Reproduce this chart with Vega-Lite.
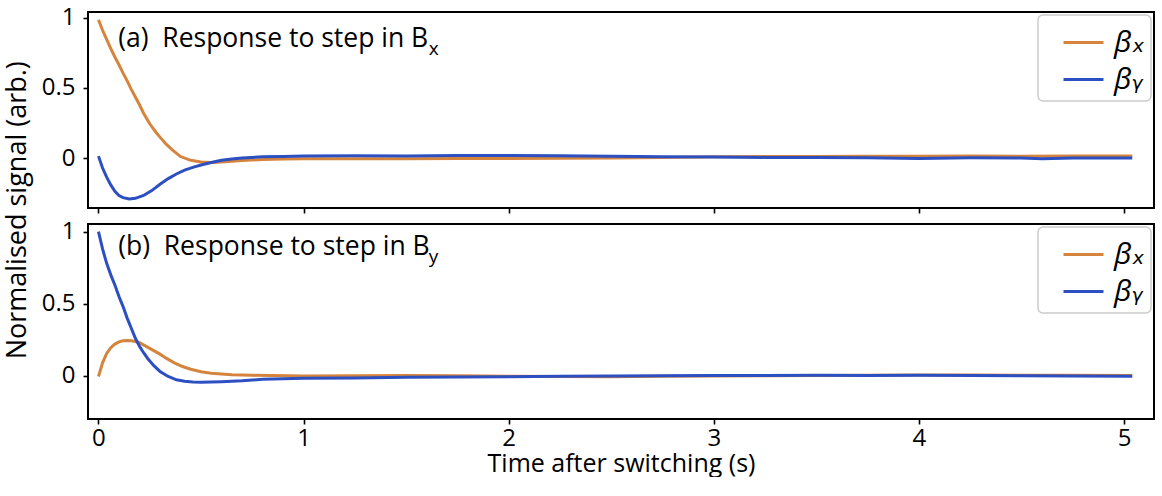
{
  "$schema": "https://vega.github.io/schema/vega-lite/v6.json",
  "padding": {"left": 3, "top": 4, "right": 0, "bottom": 0},
  "bounds": "flush",
  "spacing": 16,
  "config": {
    "font": "Open Sans",
    "view": {"stroke": "#000000", "strokeWidth": 2},
    "axis": {"domain": false, "grid": false, "tickColor": "#000000", "tickSize": 5, "tickWidth": 1.6, "labelColor": "#000000", "labelFontSize": 24, "labelFont": "Open Sans", "titleFont": "Open Sans", "titleFontSize": 25, "titleFontWeight": "normal", "titleColor": "#000000", "labelPadding": 8},
    "legend": {"orient": "top-right", "offset": 3, "padding": 6, "strokeColor": "#cccccc", "strokeWidth": 1.5, "fillColor": "rgba(255,255,255,0.85)", "cornerRadius": 5, "symbolType": "stroke", "symbolSize": 1600, "symbolStrokeWidth": 3, "symbolOffset": 18, "labelFontSize": 30, "labelFont": "Open Sans, DejaVu Sans", "labelFontStyle": "italic", "labelColor": "#000000", "rowPadding": 0, "labelOffset": 9}
  },
  "datasets": {
    "resp": [
      {"p":"a","s":"x","t":0,"v":0.985},{"p":"a","s":"x","t":0.02,"v":0.91},{"p":"a","s":"x","t":0.04,"v":0.845},{"p":"a","s":"x","t":0.06,"v":0.78},{"p":"a","s":"x","t":0.08,"v":0.72},{"p":"a","s":"x","t":0.1,"v":0.665},{"p":"a","s":"x","t":0.12,"v":0.605},{"p":"a","s":"x","t":0.14,"v":0.55},{"p":"a","s":"x","t":0.16,"v":0.49},{"p":"a","s":"x","t":0.18,"v":0.435},{"p":"a","s":"x","t":0.2,"v":0.38},{"p":"a","s":"x","t":0.22,"v":0.32},{"p":"a","s":"x","t":0.25,"v":0.245},{"p":"a","s":"x","t":0.28,"v":0.185},{"p":"a","s":"x","t":0.3,"v":0.15},{"p":"a","s":"x","t":0.33,"v":0.1},{"p":"a","s":"x","t":0.36,"v":0.06},{"p":"a","s":"x","t":0.4,"v":0.012},{"p":"a","s":"x","t":0.45,"v":-0.015},{"p":"a","s":"x","t":0.5,"v":-0.027},{"p":"a","s":"x","t":0.55,"v":-0.03},{"p":"a","s":"x","t":0.6,"v":-0.026},{"p":"a","s":"x","t":0.7,"v":-0.016},{"p":"a","s":"x","t":0.8,"v":-0.009},{"p":"a","s":"x","t":0.9,"v":-0.005},{"p":"a","s":"x","t":1.0,"v":-0.004},{"p":"a","s":"x","t":1.25,"v":-0.004},{"p":"a","s":"x","t":1.5,"v":-0.004},{"p":"a","s":"x","t":1.75,"v":-0.002},{"p":"a","s":"x","t":2.0,"v":-0.002},{"p":"a","s":"x","t":2.25,"v":0.0},{"p":"a","s":"x","t":2.5,"v":0.002},{"p":"a","s":"x","t":2.75,"v":0.006},{"p":"a","s":"x","t":3.0,"v":0.01},{"p":"a","s":"x","t":3.25,"v":0.012},{"p":"a","s":"x","t":3.5,"v":0.012},{"p":"a","s":"x","t":3.75,"v":0.014},{"p":"a","s":"x","t":4.0,"v":0.014},{"p":"a","s":"x","t":4.25,"v":0.015},{"p":"a","s":"x","t":4.5,"v":0.014},{"p":"a","s":"x","t":4.75,"v":0.015},{"p":"a","s":"x","t":5.04,"v":0.015},
      {"p":"a","s":"y","t":0,"v":0.015},{"p":"a","s":"y","t":0.02,"v":-0.07},{"p":"a","s":"y","t":0.04,"v":-0.135},{"p":"a","s":"y","t":0.06,"v":-0.19},{"p":"a","s":"y","t":0.08,"v":-0.235},{"p":"a","s":"y","t":0.1,"v":-0.265},{"p":"a","s":"y","t":0.12,"v":-0.28},{"p":"a","s":"y","t":0.15,"v":-0.29},{"p":"a","s":"y","t":0.18,"v":-0.285},{"p":"a","s":"y","t":0.22,"v":-0.265},{"p":"a","s":"y","t":0.26,"v":-0.23},{"p":"a","s":"y","t":0.3,"v":-0.185},{"p":"a","s":"y","t":0.34,"v":-0.145},{"p":"a","s":"y","t":0.38,"v":-0.112},{"p":"a","s":"y","t":0.42,"v":-0.085},{"p":"a","s":"y","t":0.46,"v":-0.065},{"p":"a","s":"y","t":0.5,"v":-0.048},{"p":"a","s":"y","t":0.55,"v":-0.03},{"p":"a","s":"y","t":0.6,"v":-0.015},{"p":"a","s":"y","t":0.65,"v":-0.005},{"p":"a","s":"y","t":0.7,"v":0.002},{"p":"a","s":"y","t":0.8,"v":0.01},{"p":"a","s":"y","t":0.9,"v":0.013},{"p":"a","s":"y","t":1.0,"v":0.015},{"p":"a","s":"y","t":1.25,"v":0.018},{"p":"a","s":"y","t":1.5,"v":0.016},{"p":"a","s":"y","t":1.75,"v":0.02},{"p":"a","s":"y","t":2.0,"v":0.019},{"p":"a","s":"y","t":2.25,"v":0.018},{"p":"a","s":"y","t":2.5,"v":0.014},{"p":"a","s":"y","t":2.75,"v":0.01},{"p":"a","s":"y","t":3.0,"v":0.008},{"p":"a","s":"y","t":3.25,"v":0.006},{"p":"a","s":"y","t":3.5,"v":0.005},{"p":"a","s":"y","t":3.75,"v":0.004},{"p":"a","s":"y","t":4.0,"v":-0.002},{"p":"a","s":"y","t":4.25,"v":0.003},{"p":"a","s":"y","t":4.5,"v":0.002},{"p":"a","s":"y","t":4.6,"v":-0.003},{"p":"a","s":"y","t":4.75,"v":0.001},{"p":"a","s":"y","t":5.04,"v":0.001},
      {"p":"b","s":"x","t":0,"v":-0.005},{"p":"b","s":"x","t":0.02,"v":0.09},{"p":"b","s":"x","t":0.04,"v":0.155},{"p":"b","s":"x","t":0.06,"v":0.195},{"p":"b","s":"x","t":0.08,"v":0.22},{"p":"b","s":"x","t":0.1,"v":0.235},{"p":"b","s":"x","t":0.12,"v":0.243},{"p":"b","s":"x","t":0.14,"v":0.245},{"p":"b","s":"x","t":0.16,"v":0.243},{"p":"b","s":"x","t":0.18,"v":0.238},{"p":"b","s":"x","t":0.2,"v":0.23},{"p":"b","s":"x","t":0.25,"v":0.19},{"p":"b","s":"x","t":0.3,"v":0.15},{"p":"b","s":"x","t":0.33,"v":0.122},{"p":"b","s":"x","t":0.37,"v":0.09},{"p":"b","s":"x","t":0.41,"v":0.064},{"p":"b","s":"x","t":0.45,"v":0.045},{"p":"b","s":"x","t":0.5,"v":0.028},{"p":"b","s":"x","t":0.55,"v":0.018},{"p":"b","s":"x","t":0.6,"v":0.012},{"p":"b","s":"x","t":0.65,"v":0.007},{"p":"b","s":"x","t":0.75,"v":0.003},{"p":"b","s":"x","t":0.85,"v":0.001},{"p":"b","s":"x","t":1.0,"v":-0.001},{"p":"b","s":"x","t":1.25,"v":0.0},{"p":"b","s":"x","t":1.5,"v":0.002},{"p":"b","s":"x","t":1.75,"v":0.0},{"p":"b","s":"x","t":2.0,"v":-0.003},{"p":"b","s":"x","t":2.25,"v":-0.005},{"p":"b","s":"x","t":2.5,"v":-0.006},{"p":"b","s":"x","t":2.75,"v":-0.004},{"p":"b","s":"x","t":3.0,"v":-0.002},{"p":"b","s":"x","t":3.25,"v":0.0},{"p":"b","s":"x","t":3.5,"v":0.002},{"p":"b","s":"x","t":3.75,"v":0.004},{"p":"b","s":"x","t":4.0,"v":0.006},{"p":"b","s":"x","t":4.25,"v":0.006},{"p":"b","s":"x","t":4.5,"v":0.004},{"p":"b","s":"x","t":4.75,"v":0.003},{"p":"b","s":"x","t":5.04,"v":0.002},
      {"p":"b","s":"y","t":0,"v":1.0},{"p":"b","s":"y","t":0.02,"v":0.88},{"p":"b","s":"y","t":0.04,"v":0.78},{"p":"b","s":"y","t":0.06,"v":0.7},{"p":"b","s":"y","t":0.08,"v":0.63},{"p":"b","s":"y","t":0.1,"v":0.55},{"p":"b","s":"y","t":0.12,"v":0.48},{"p":"b","s":"y","t":0.14,"v":0.4},{"p":"b","s":"y","t":0.16,"v":0.33},{"p":"b","s":"y","t":0.18,"v":0.26},{"p":"b","s":"y","t":0.2,"v":0.205},{"p":"b","s":"y","t":0.22,"v":0.16},{"p":"b","s":"y","t":0.24,"v":0.12},{"p":"b","s":"y","t":0.27,"v":0.07},{"p":"b","s":"y","t":0.3,"v":0.03},{"p":"b","s":"y","t":0.34,"v":-0.005},{"p":"b","s":"y","t":0.38,"v":-0.028},{"p":"b","s":"y","t":0.42,"v":-0.038},{"p":"b","s":"y","t":0.46,"v":-0.043},{"p":"b","s":"y","t":0.5,"v":-0.045},{"p":"b","s":"y","t":0.6,"v":-0.041},{"p":"b","s":"y","t":0.7,"v":-0.035},{"p":"b","s":"y","t":0.8,"v":-0.025},{"p":"b","s":"y","t":0.9,"v":-0.02},{"p":"b","s":"y","t":1.0,"v":-0.018},{"p":"b","s":"y","t":1.25,"v":-0.015},{"p":"b","s":"y","t":1.5,"v":-0.01},{"p":"b","s":"y","t":1.75,"v":-0.008},{"p":"b","s":"y","t":2.0,"v":-0.006},{"p":"b","s":"y","t":2.25,"v":-0.004},{"p":"b","s":"y","t":2.5,"v":-0.002},{"p":"b","s":"y","t":2.75,"v":0.0},{"p":"b","s":"y","t":3.0,"v":0.001},{"p":"b","s":"y","t":3.25,"v":0.002},{"p":"b","s":"y","t":3.5,"v":0.003},{"p":"b","s":"y","t":3.75,"v":0.002},{"p":"b","s":"y","t":4.0,"v":0.003},{"p":"b","s":"y","t":4.25,"v":0.002},{"p":"b","s":"y","t":4.5,"v":0.0},{"p":"b","s":"y","t":4.75,"v":-0.002},{"p":"b","s":"y","t":5.04,"v":-0.003}
    ]
  },
  "resolve": {"scale": {"color": "independent"}, "legend": {"color": "independent"}},
  "vconcat": [
    {
      "width": 1066,
      "height": 196,
      "layer": [
        {
          "data": {"name": "resp"},
          "transform": [{"filter": "datum.p == 'a'"}],
          "mark": {"type": "line", "strokeWidth": 3, "clip": true},
          "encoding": {
            "x": {"field": "t", "type": "quantitative", "scale": {"domain": [-0.051, 5.146], "nice": false, "zero": false}, "axis": {"values": [0, 1, 2, 3, 4, 5], "labels": false, "title": null}},
            "y": {"field": "v", "type": "quantitative", "scale": {"domain": [-0.354, 1.04], "nice": false, "zero": false}, "axis": {"values": [0, 0.5, 1], "format": "~g", "title": null}},
            "color": {"field": "s", "type": "nominal", "scale": {"domain": ["x", "y"], "range": ["#d5843d", "#2c4fc2"]}, "legend": {"title": null, "labelExpr": "'β' + (datum.label == 'x' ? 'ₓ' : 'ᵧ')"}},
            "order": {"field": "t", "type": "quantitative"}
          }
        },
        {
          "data": {"values": [{}]},
          "mark": {"type": "text", "text": "Normalised signal (arb.)", "angle": 270, "align": "center", "baseline": "middle", "fontSize": 27, "color": "#000000"},
          "encoding": {"x": {"datum": -0.39}, "y": {"datum": -0.37}}
        },
        {
          "data": {"values": [{}]},
          "mark": {"type": "text", "text": "(a)\u00a0 Response to step in B", "align": "left", "baseline": "middle", "fontSize": 26.5, "color": "#000000"},
          "encoding": {"x": {"datum": 0.096}, "y": {"datum": 0.848}}
        },
        {
          "data": {"values": [{}]},
          "mark": {"type": "text", "text": "x", "align": "left", "baseline": "middle", "fontSize": 19, "color": "#000000"},
          "encoding": {"x": {"datum": 1.61}, "y": {"datum": 0.78}}
        }
      ]
    },
    {
      "width": 1066,
      "height": 195,
      "layer": [
        {
          "data": {"name": "resp"},
          "transform": [{"filter": "datum.p == 'b'"}],
          "mark": {"type": "line", "strokeWidth": 3, "clip": true},
          "encoding": {
            "x": {"field": "t", "type": "quantitative", "scale": {"domain": [-0.051, 5.146], "nice": false, "zero": false}, "axis": {"values": [0, 1, 2, 3, 4, 5], "format": "~g", "labelPadding": 2, "title": "Time after switching (s)", "titlePadding": 1}},
            "y": {"field": "v", "type": "quantitative", "scale": {"domain": [-0.30, 1.053], "nice": false, "zero": false}, "axis": {"values": [0, 0.5, 1], "format": "~g", "title": null}},
            "color": {"field": "s", "type": "nominal", "scale": {"domain": ["x", "y"], "range": ["#d5843d", "#2c4fc2"]}, "legend": {"title": null, "labelExpr": "'β' + (datum.label == 'x' ? 'ₓ' : 'ᵧ')"}},
            "order": {"field": "t", "type": "quantitative"}
          }
        },
        {
          "data": {"values": [{}]},
          "mark": {"type": "text", "text": "(b)\u00a0 Response to step in B", "align": "left", "baseline": "middle", "fontSize": 26.5, "color": "#000000"},
          "encoding": {"x": {"datum": 0.096}, "y": {"datum": 0.896}}
        },
        {
          "data": {"values": [{}]},
          "mark": {"type": "text", "text": "y", "align": "left", "baseline": "middle", "fontSize": 19, "color": "#000000"},
          "encoding": {"x": {"datum": 1.61}, "y": {"datum": 0.826}}
        }
      ]
    }
  ]
}
